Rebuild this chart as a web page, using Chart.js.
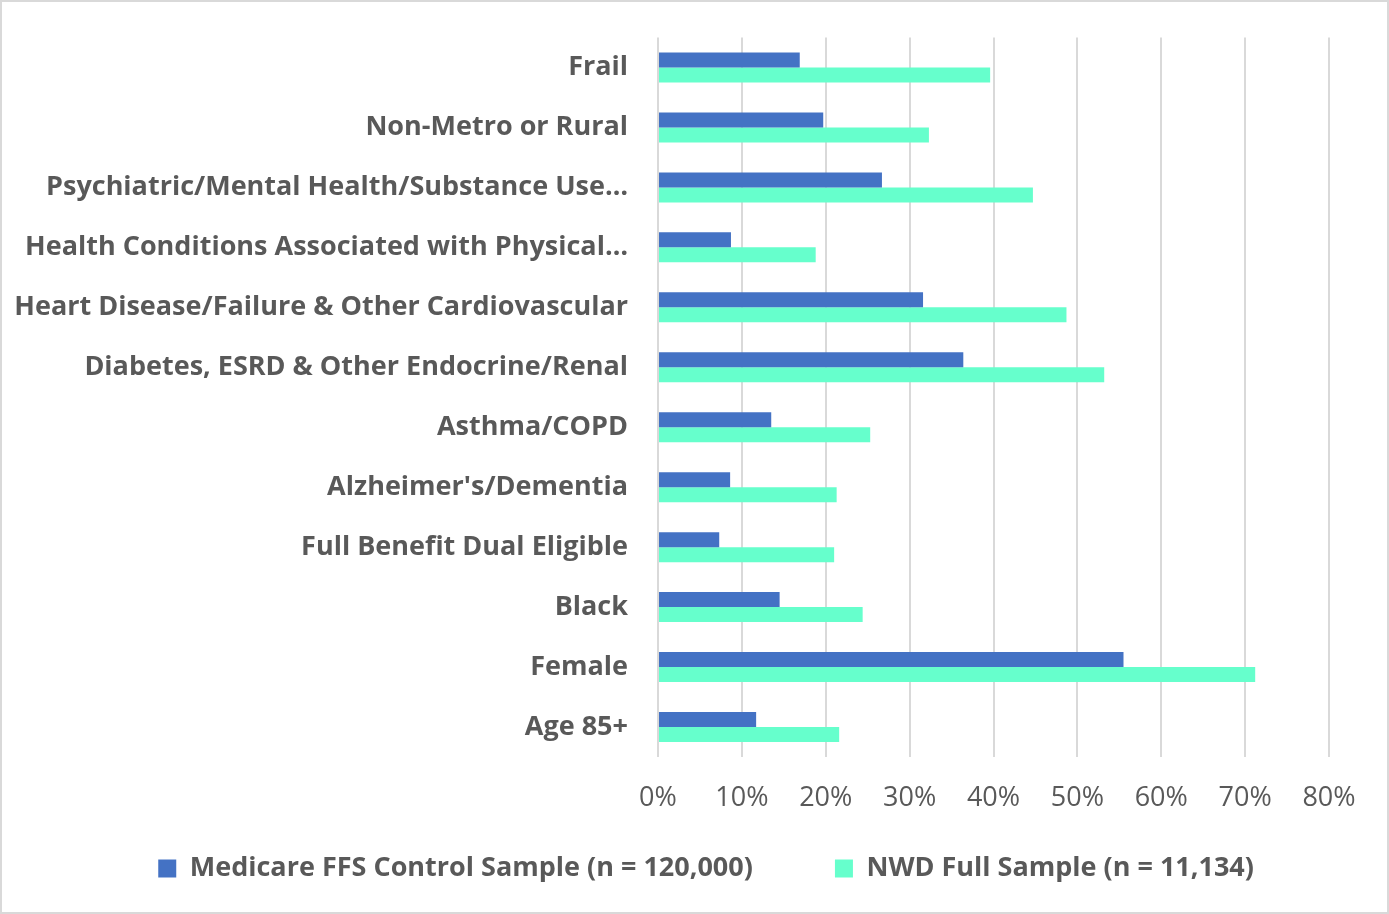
<!DOCTYPE html>
<html>
<head>
<meta charset="utf-8">
<script src="https://cdn.jsdelivr.net/npm/chart.js@4"></script>
<style>
  html, body { margin: 0; padding: 0; background: #ffffff; }
  #wrap { width: 1385px; height: 910px; border: 2px solid #d9d9d9; position: relative; }
</style>
</head>
<body>
<div id="wrap"><canvas id="chart-1" width="1385" height="910"></canvas></div>
<script>
// Data

const categories = [
    'Frail',
    'Non-Metro or Rural',
    'Psychiatric/Mental Health/Substance Use\u2026',
    'Health Conditions Associated with Physical\u2026',
    'Heart Disease/Failure & Other Cardiovascular',
    'Diabetes, ESRD & Other Endocrine/Renal',
    'Asthma/COPD',
    "Alzheimer's/Dementia",
    'Full Benefit Dual Eligible',
    'Black',
    'Female',
    'Age 85+'
];

const medicareValues = [16.9, 19.7, 26.7, 8.7, 31.6, 36.4, 13.5, 8.6, 7.3, 14.5, 55.5, 11.7];
const nwdValues = [39.6, 32.3, 44.7, 18.8, 48.7, 53.2, 25.3, 21.3, 21.0, 24.4, 71.2, 21.6];

const xTicks = [0, 10, 20, 30, 40, 50, 60, 70, 80];

// Chart

const fontFamily = '"Open Sans", sans-serif';
const textColor = '#595959';

const data1 = {
    labels: categories,
    datasets: [{
        label: 'Medicare FFS Control Sample (n = 120,000)',
        data: medicareValues,
        backgroundColor: '#4472c4',
        categoryPercentage: 0.5,
        barPercentage: 1.0,
    }, {
        label: 'NWD Full Sample (n = 11,134)',
        data: nwdValues,
        backgroundColor: '#66ffcc',
        categoryPercentage: 0.5,
        barPercentage: 1.0,
    }],
};

const config1 = {
    type: 'bar',
    data: data1,
    options: {
        indexAxis: 'y',
        responsive: false,
        animation: false,
        layout: {
            padding: { top: 17, right: 58, left: 0, bottom: 20 }
        },
        scales: {
            x: {
                min: 0,
                max: 80,
                afterBuildTicks: function (scale) {
                    scale.ticks = xTicks.map(v => ({ value: v }));
                },
                afterFit: function (scale) {
                    scale.height = 58;
                },
                ticks: {
                    callback: v => v + '%',
                    color: textColor,
                    font: { family: fontFamily, size: 27 },
                    padding: 25,
                    maxRotation: 0,
                },
                grid: {
                    color: '#d9d9d9',
                    lineWidth: 2,
                    drawTicks: false,
                },
                border: { display: false },
            },
            y: {
                afterFit: function (scale) {
                    scale.width = 656;
                },
                ticks: {
                    color: textColor,
                    font: { family: fontFamily, size: 27, weight: 'bold', lineHeight: 1 },
                    padding: 22,
                },
                grid: { display: false },
                border: { display: false },
            }
        },
        plugins: {
            legend: {
                position: 'bottom',
                align: 'end',
                labels: {
                    color: textColor,
                    font: { family: fontFamily, size: 27, weight: 'bold' },
                    boxWidth: 18,
                    boxHeight: 18,
                    padding: 40,
                    // spaces widen the gap between items and pull the legend off the right edge
                    generateLabels: function (chart) {
                        const items = Chart.defaults.plugins.legend.labels.generateLabels(chart);
                        items[0].text = items[0].text + '      ';
                        items[1].text = items[1].text + '     ';
                        return items;
                    },
                },
            },
            tooltip: { enabled: false },
        }
    }
};

const context1 = document.getElementById('chart-1').getContext('2d');
const chart1 = new Chart(context1, config1);
</script>
</body>
</html>
